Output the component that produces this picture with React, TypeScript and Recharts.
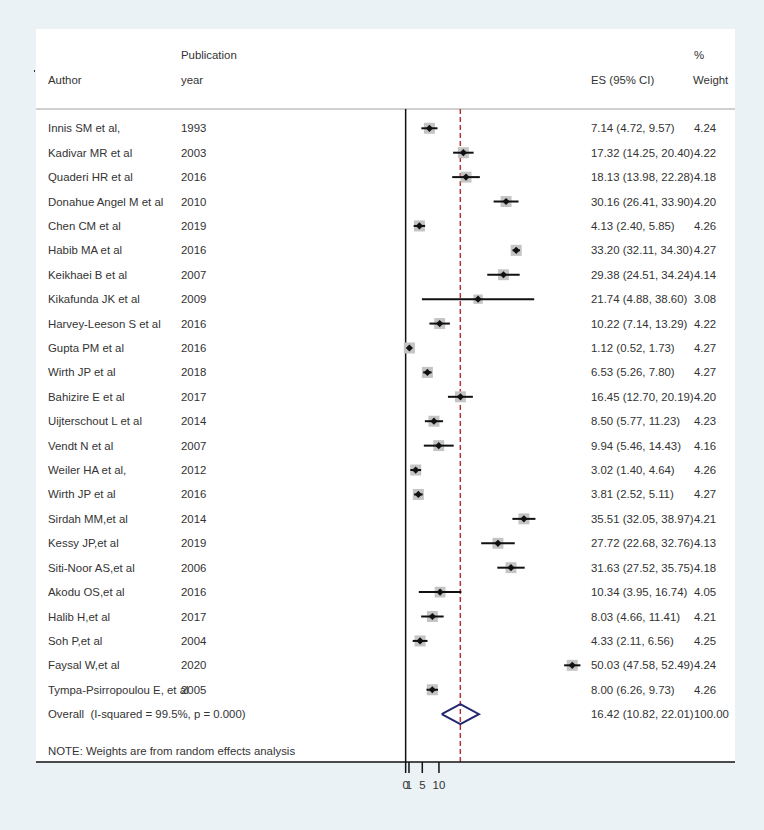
import React from "react";
import {
  ComposedChart,
  Scatter,
  XAxis,
  YAxis,
  ReferenceLine,
} from "recharts";

// study rows, top to bottom
const AUTHORS = [
  "Innis SM et al,",
  "Kadivar MR et al",
  "Quaderi HR et al",
  "Donahue Angel M et al",
  "Chen CM et al",
  "Habib MA et al",
  "Keikhaei B et al",
  "Kikafunda JK et al",
  "Harvey-Leeson S et al",
  "Gupta PM et al",
  "Wirth JP et al",
  "Bahizire E et al",
  "Uijterschout L et al",
  "Vendt N et al",
  "Weiler HA et al,",
  "Wirth JP et al",
  "Sirdah MM,et al",
  "Kessy JP,et al",
  "Siti-Noor AS,et al",
  "Akodu OS,et al",
  "Halib H,et al",
  "Soh P,et al",
  "Faysal W,et al",
  "Tympa-Psirropoulou E, et al",
];
const YEARS = [
  "1993", "2003", "2016", "2010", "2019", "2016", "2007", "2009", "2016", "2016", "2018", "2017",
  "2014", "2007", "2012", "2016", "2014", "2019", "2006", "2016", "2017", "2004", "2020", "2005",
];
const ES = [
  7.14, 17.32, 18.13, 30.16, 4.13, 33.2, 29.38, 21.74, 10.22, 1.12, 6.53, 16.45,
  8.5, 9.94, 3.02, 3.81, 35.51, 27.72, 31.63, 10.34, 8.03, 4.33, 50.03, 8.0,
];
const LO = [
  4.72, 14.25, 13.98, 26.41, 2.4, 32.11, 24.51, 4.88, 7.14, 0.52, 5.26, 12.7,
  5.77, 5.46, 1.4, 2.52, 32.05, 22.68, 27.52, 3.95, 4.66, 2.11, 47.58, 6.26,
];
const HI = [
  9.57, 20.4, 22.28, 33.9, 5.85, 34.3, 34.24, 38.6, 13.29, 1.73, 7.8, 20.19,
  11.23, 14.43, 4.64, 5.11, 38.97, 32.76, 35.75, 16.74, 11.41, 6.56, 52.49, 9.73,
];
const WEIGHTS = [
  4.24, 4.22, 4.18, 4.2, 4.26, 4.27, 4.14, 3.08, 4.22, 4.27, 4.27, 4.2,
  4.23, 4.16, 4.26, 4.27, 4.21, 4.13, 4.18, 4.05, 4.21, 4.25, 4.24, 4.26,
];

const OVERALL_LABEL = "Overall \u00a0(I-squared = 99.5%, p = 0.000)";
const OVERALL_ES = 16.42;
const OVERALL_LO = 10.82;
const OVERALL_HI = 22.01;
const OVERALL_WEIGHT = "100.00";
const NOTE = "NOTE: Weights are from random effects analysis";

const X_TICKS = [0, 1, 5, 10];

const FONT = "'Liberation Sans', Arial, sans-serif";
const FS = 11.4;
const TXT = "#333";
const NAVY = "#24286e";
const RED = "#b8323a";

const OVERALL_ROW = AUTHORS.length;
const NOTE_ROW = OVERALL_ROW + 1.5;

const ciText = (e: number, l: number, h: number) =>
  `${e.toFixed(2)} (${l.toFixed(2)}, ${h.toFixed(2)})`;

const studies = AUTHORS.map((a, i) => ({ row: i, x: ES[i], w: WEIGHTS[i] }));

// one two-point segment per study for the confidence interval
const ciSegments = AUTHORS.map((a, i) => [
  { row: i, x: LO[i] },
  { row: i, x: HI[i] },
]);

const textRows = [
  ...AUTHORS.map((a, i) => ({
    row: i,
    x: 0,
    author: a,
    year: YEARS[i],
    ci: ciText(ES[i], LO[i], HI[i]),
    weight: WEIGHTS[i].toFixed(2),
  })),
  {
    row: OVERALL_ROW,
    x: 0,
    author: OVERALL_LABEL,
    year: "",
    ci: ciText(OVERALL_ES, OVERALL_LO, OVERALL_HI),
    weight: OVERALL_WEIGHT,
  },
  { row: NOTE_ROW, x: 0, author: NOTE, year: "", ci: "", weight: "" },
];

const DIAMOND_HALF = 0.41; // in rows
const overallDiamond = [
  { x: OVERALL_LO, row: OVERALL_ROW },
  { x: OVERALL_ES, row: OVERALL_ROW - DIAMOND_HALF },
  { x: OVERALL_HI, row: OVERALL_ROW },
  { x: OVERALL_ES, row: OVERALL_ROW + DIAMOND_HALF },
  { x: OVERALL_LO, row: OVERALL_ROW },
];

function WeightBox(props: any) {
  const { cx, cy, payload } = props;
  const s = 5.34 * Math.sqrt(payload.w);
  return <rect x={cx - s / 2} y={cy - s / 2} width={s} height={s} fill="#c4c4c4" />;
}

function Point(props: any) {
  const { cx, cy } = props;
  const r = 3.6;
  return (
    <path
      d={`M${cx - r},${cy} L${cx},${cy - r} L${cx + r},${cy} L${cx},${cy + r} Z`}
      fill="#111"
    />
  );
}

const NoDot = () => <g />;

function RowText(props: any) {
  const { cy, payload } = props;
  return (
    <g fontFamily={FONT} fontSize={FS} fill={TXT}>
      <text x={48} y={cy} dominantBaseline="central">{payload.author}</text>
      <text x={181} y={cy} dominantBaseline="central">{payload.year}</text>
      <text x={591} y={cy} dominantBaseline="central">{payload.ci}</text>
      <text x={694} y={cy} dominantBaseline="central">{payload.weight}</text>
    </g>
  );
}

const hdr = (left: number, top: number, text: string) => (
  <div
    style={{
      position: "absolute",
      left,
      top: top - 7,
      height: 14,
      lineHeight: "14px",
      fontFamily: FONT,
      fontSize: FS,
      color: TXT,
      whiteSpace: "nowrap",
    }}
  >
    {text}
  </div>
);

export default function App() {
  return (
    <div
      style={{
        position: "absolute",
        left: 0,
        top: 0,
        width: 764,
        height: 830,
        background: "#eaf2f5",
      }}
    >
      <div
        style={{ position: "absolute", left: 36, top: 29, width: 699, height: 733, background: "#fff" }}
      />
      <div style={{ position: "absolute", left: 36, top: 108, width: 699, height: 2, background: "#d0d0d0" }} />
      <div style={{ position: "absolute", left: 34, top: 70, width: 1, height: 2, background: "#333" }} />
      {hdr(181, 55, "Publication")}
      {hdr(694, 55, "%")}
      {hdr(48, 80, "Author")}
      {hdr(181, 80, "year")}
      {hdr(591, 80, "ES (95% CI)")}
      {hdr(693, 80, "Weight")}
      <div style={{ position: "absolute", left: 0, top: 0 }}>
        <ComposedChart
          width={764}
          height={830}
          margin={{ top: 109, right: 29, bottom: 38, left: 36 }}
        >
          <XAxis
            type="number"
            dataKey="x"
            domain={[-111, 98.9]}
            ticks={X_TICKS}
            interval={0}
            height={30}
            tickSize={11}
            tickMargin={8}
            axisLine={{ stroke: "#111", strokeWidth: 1.5 }}
            tickLine={{ stroke: "#111", strokeWidth: 1.5 }}
            tick={{ fill: TXT, fontSize: FS, fontFamily: FONT }}
            allowDataOverflow
          />
          <YAxis type="number" dataKey="row" domain={[-0.79, 25.96]} reversed hide width={0} />
          <ReferenceLine x={0} stroke="#111" strokeWidth={1.5} />
          <Scatter data={studies} shape={<WeightBox />} isAnimationActive={false} />
          {ciSegments.map((seg, i) => (
            <Scatter
              key={`ci-${i}`}
              data={seg}
              line={{ stroke: "#111", strokeWidth: 2 }}
              shape={<NoDot />}
              isAnimationActive={false}
            />
          ))}
          <Scatter data={studies} shape={<Point />} isAnimationActive={false} />
          <Scatter
            data={overallDiamond}
            line={{ stroke: NAVY, strokeWidth: 2 }}
            shape={<NoDot />}
            isAnimationActive={false}
          />
          <ReferenceLine x={OVERALL_ES} stroke={RED} strokeWidth={1.5} strokeDasharray="5 3" />
          <Scatter data={textRows} shape={<RowText />} isAnimationActive={false} />
        </ComposedChart>
      </div>
    </div>
  );
}
